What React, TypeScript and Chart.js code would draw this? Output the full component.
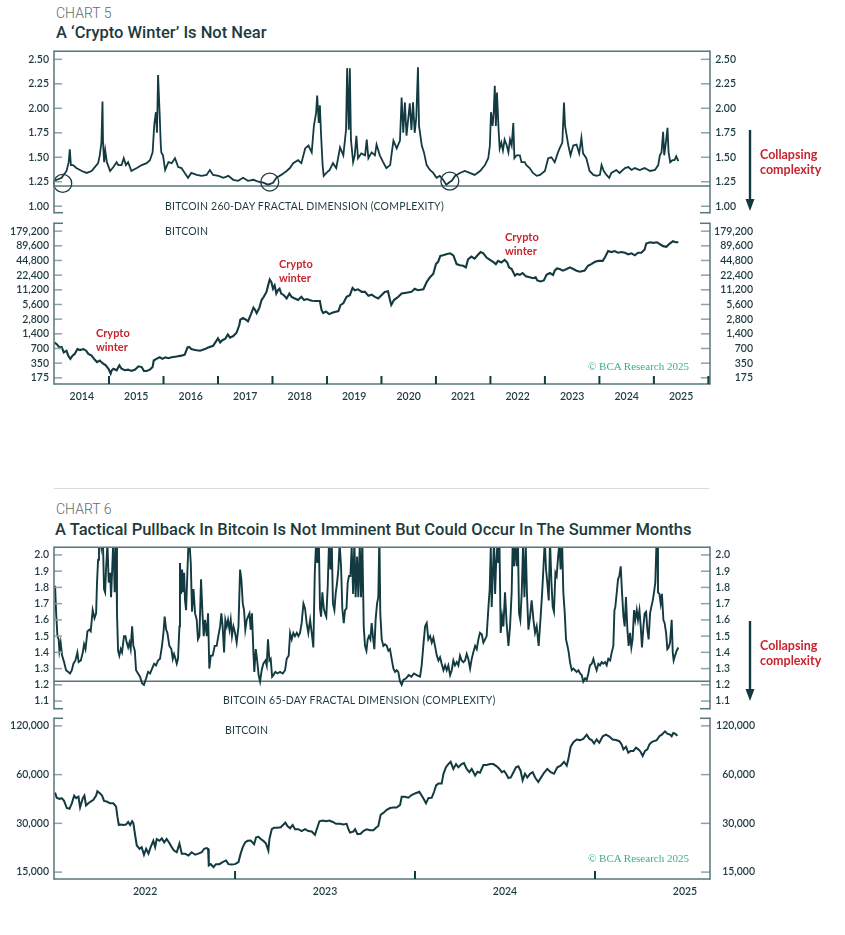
import React, { useEffect, useRef } from "react";
import { Chart, registerables } from "chart.js";

Chart.register(...registerables);

type Pair = [number, number];

// ---------------- CHART 5 data ----------------
const fractal260: Pair[] = [
  [2014.0, 1.26], [2014.13, 1.29], [2014.22, 1.36], [2014.26, 1.45], [2014.28, 1.58], [2014.3, 1.42], [2014.34, 1.42],
  [2014.4, 1.39], [2014.5, 1.36], [2014.59, 1.34], [2014.68, 1.36], [2014.74, 1.4], [2014.8, 1.44], [2014.83, 1.52],
  [2014.86, 1.65], [2014.88, 2.07], [2014.89, 1.65], [2014.91, 1.45], [2014.93, 1.57], [2014.96, 1.45], [2015.02, 1.36],
  [2015.08, 1.4], [2015.14, 1.45], [2015.17, 1.42], [2015.23, 1.42], [2015.27, 1.49], [2015.31, 1.42], [2015.35, 1.45],
  [2015.41, 1.36], [2015.51, 1.39], [2015.6, 1.42], [2015.69, 1.44], [2015.75, 1.47], [2015.8, 1.55], [2015.83, 1.83],
  [2015.86, 1.96], [2015.88, 1.75], [2015.9, 2.34], [2015.93, 1.93], [2015.95, 1.62], [2015.96, 1.55], [2015.99, 1.52],
  [2016.03, 1.37], [2016.09, 1.45], [2016.15, 1.44], [2016.21, 1.49], [2016.27, 1.4], [2016.33, 1.39], [2016.39, 1.34],
  [2016.45, 1.29], [2016.51, 1.34], [2016.61, 1.32], [2016.7, 1.31], [2016.79, 1.32], [2016.85, 1.37], [2016.91, 1.32],
  [2017.01, 1.31], [2017.1, 1.29], [2017.19, 1.31], [2017.28, 1.27], [2017.37, 1.26], [2017.46, 1.29], [2017.55, 1.26],
  [2017.65, 1.27], [2017.74, 1.25], [2017.83, 1.24], [2017.92, 1.22], [2018.01, 1.24], [2018.07, 1.29], [2018.16, 1.32],
  [2018.26, 1.36], [2018.32, 1.39], [2018.38, 1.44], [2018.47, 1.47], [2018.53, 1.44], [2018.6, 1.59], [2018.66, 1.62],
  [2018.72, 1.55], [2018.76, 1.82], [2018.8, 1.95], [2018.82, 2.13], [2018.85, 1.85], [2018.87, 2.03], [2018.89, 1.75],
  [2018.92, 1.42], [2018.94, 1.31], [2018.99, 1.34], [2019.05, 1.37], [2019.11, 1.44], [2019.17, 1.39], [2019.24, 1.6],
  [2019.3, 1.52], [2019.35, 1.78], [2019.37, 2.41], [2019.4, 1.78], [2019.42, 2.41], [2019.44, 1.68], [2019.48, 1.45],
  [2019.51, 1.52], [2019.54, 1.72], [2019.57, 1.49], [2019.63, 1.54], [2019.7, 1.52], [2019.73, 1.68], [2019.76, 1.49],
  [2019.82, 1.55], [2019.88, 1.52], [2019.91, 1.63], [2019.97, 1.52], [2020.03, 1.45], [2020.09, 1.39], [2020.16, 1.42],
  [2020.19, 1.55], [2020.22, 1.67], [2020.28, 1.59], [2020.34, 1.67], [2020.37, 2.11], [2020.4, 1.75], [2020.43, 2.06],
  [2020.46, 1.72], [2020.52, 2.05], [2020.55, 1.78], [2020.58, 2.06], [2020.61, 1.75], [2020.64, 1.91], [2020.67, 2.42],
  [2020.69, 1.82], [2020.74, 1.62], [2020.78, 1.55], [2020.83, 1.42], [2020.89, 1.37], [2020.95, 1.34], [2021.01, 1.29],
  [2021.07, 1.31], [2021.13, 1.27], [2021.19, 1.22], [2021.26, 1.25], [2021.29, 1.26], [2021.35, 1.31], [2021.44, 1.34],
  [2021.53, 1.36], [2021.62, 1.34], [2021.71, 1.32], [2021.81, 1.36], [2021.9, 1.42], [2021.96, 1.49], [2021.99, 1.62],
  [2022.01, 1.96], [2022.04, 1.82], [2022.06, 1.96], [2022.08, 2.23], [2022.1, 1.82], [2022.12, 2.16], [2022.15, 1.78],
  [2022.17, 1.59], [2022.2, 1.65], [2022.23, 1.57], [2022.26, 1.68], [2022.3, 1.62], [2022.33, 1.55], [2022.36, 1.68],
  [2022.39, 1.62], [2022.42, 1.85], [2022.44, 1.49], [2022.48, 1.52], [2022.54, 1.52], [2022.57, 1.45], [2022.63, 1.45],
  [2022.66, 1.42], [2022.72, 1.39], [2022.78, 1.34], [2022.85, 1.31], [2022.91, 1.32], [2023.0, 1.36], [2023.06, 1.49],
  [2023.12, 1.5], [2023.18, 1.45], [2023.24, 1.55], [2023.27, 1.59], [2023.32, 1.65], [2023.35, 2.06], [2023.37, 1.82],
  [2023.4, 1.72], [2023.43, 1.62], [2023.47, 1.52], [2023.52, 1.62], [2023.58, 1.63], [2023.63, 1.54], [2023.67, 1.7],
  [2023.7, 1.54], [2023.76, 1.49], [2023.82, 1.36], [2023.89, 1.32], [2023.95, 1.31], [2024.01, 1.32], [2024.04, 1.42],
  [2024.08, 1.36], [2024.13, 1.32], [2024.18, 1.29], [2024.22, 1.34], [2024.31, 1.37], [2024.37, 1.34], [2024.47, 1.39],
  [2024.53, 1.4], [2024.59, 1.37], [2024.65, 1.39], [2024.74, 1.37], [2024.83, 1.39], [2024.93, 1.36], [2025.02, 1.37],
  [2025.08, 1.42], [2025.11, 1.52], [2025.14, 1.55], [2025.17, 1.76], [2025.19, 1.52], [2025.22, 1.65], [2025.25, 1.8],
  [2025.27, 1.55], [2025.3, 1.45], [2025.34, 1.47], [2025.38, 1.47], [2025.41, 1.51], [2025.45, 1.46],
];

const bitcoinLong: Pair[] = [
  [2014.0, 927], [2014.04, 858], [2014.09, 735], [2014.13, 750], [2014.17, 583], [2014.22, 630], [2014.25, 500],
  [2014.29, 429], [2014.33, 500], [2014.37, 541], [2014.42, 681], [2014.47, 650], [2014.53, 680], [2014.58, 630],
  [2014.62, 541], [2014.68, 500], [2014.74, 409], [2014.78, 368], [2014.83, 397], [2014.88, 350], [2014.94, 315],
  [2014.99, 269], [2015.03, 214], [2015.05, 250], [2015.08, 269], [2015.14, 250], [2015.19, 315], [2015.23, 269],
  [2015.29, 250], [2015.35, 258], [2015.41, 242], [2015.48, 258], [2015.54, 301], [2015.6, 291], [2015.64, 242],
  [2015.69, 242], [2015.75, 258], [2015.8, 291], [2015.82, 397], [2015.87, 429], [2015.93, 462], [2015.98, 429],
  [2016.03, 462], [2016.09, 442], [2016.15, 462], [2016.24, 478], [2016.33, 500], [2016.39, 523], [2016.44, 735],
  [2016.47, 750], [2016.51, 681], [2016.58, 650], [2016.67, 630], [2016.76, 681], [2016.82, 735], [2016.91, 794],
  [2016.97, 1003], [2017.0, 1132], [2017.04, 927], [2017.08, 1034], [2017.13, 1100], [2017.18, 1363], [2017.22, 1169],
  [2017.28, 1262], [2017.34, 1472], [2017.39, 2100], [2017.41, 2730], [2017.46, 2950], [2017.51, 2730], [2017.55, 2525],
  [2017.6, 3440], [2017.65, 4830], [2017.68, 4340], [2017.71, 3720], [2017.76, 4830], [2017.8, 6900], [2017.84, 8040],
  [2017.89, 10150], [2017.92, 13800], [2017.95, 18200], [2017.98, 16100], [2018.01, 11800], [2018.04, 13800],
  [2018.07, 9400], [2018.1, 10970], [2018.13, 11800], [2018.16, 9400], [2018.21, 8680], [2018.26, 7440], [2018.31, 9400],
  [2018.35, 8040], [2018.41, 7440], [2018.47, 6900], [2018.53, 8040], [2018.58, 6900], [2018.63, 7230], [2018.72, 6700],
  [2018.81, 6600], [2018.87, 6600], [2018.9, 4340], [2018.93, 3720], [2018.98, 4010], [2019.04, 3550], [2019.11, 3830],
  [2019.21, 4100], [2019.25, 5480], [2019.3, 5910], [2019.36, 8040], [2019.42, 8680], [2019.47, 12200], [2019.51, 10970],
  [2019.57, 11480], [2019.64, 10150], [2019.7, 10150], [2019.76, 8430], [2019.82, 8900], [2019.88, 8040], [2019.94, 7440],
  [2020.0, 8680], [2020.06, 10150], [2020.12, 10460], [2020.15, 7440], [2020.18, 5480], [2020.23, 6900], [2020.31, 8040],
  [2020.37, 9400], [2020.46, 9750], [2020.55, 10150], [2020.61, 11800], [2020.67, 10970], [2020.77, 11480],
  [2020.83, 16100], [2020.89, 20300], [2020.95, 23700], [2021.0, 37700], [2021.04, 42000], [2021.08, 55500],
  [2021.13, 57100], [2021.19, 59900], [2021.26, 62800], [2021.32, 57100], [2021.38, 37700], [2021.44, 35900],
  [2021.5, 34900], [2021.55, 32300], [2021.59, 47400], [2021.65, 53700], [2021.71, 49000], [2021.78, 59900],
  [2021.82, 66700], [2021.87, 62800], [2021.93, 51400], [2021.99, 46000], [2022.05, 42000], [2022.1, 37700],
  [2022.14, 43900], [2022.2, 40700], [2022.26, 46000], [2022.31, 40700], [2022.34, 32300], [2022.39, 29900],
  [2022.45, 21900], [2022.49, 23700], [2022.54, 22700], [2022.59, 24800], [2022.65, 21300], [2022.72, 20300],
  [2022.78, 19400], [2022.83, 20300], [2022.86, 17400], [2022.92, 16600], [2022.98, 17400], [2023.03, 22700],
  [2023.09, 24800], [2023.15, 22700], [2023.18, 27700], [2023.22, 30800], [2023.27, 29900], [2023.33, 27700],
  [2023.4, 29900], [2023.46, 32300], [2023.52, 29900], [2023.58, 27700], [2023.64, 26400], [2023.73, 27700],
  [2023.79, 34900], [2023.85, 37700], [2023.92, 42000], [2023.98, 43900], [2024.06, 43900], [2024.1, 51400],
  [2024.16, 69800], [2024.22, 66700], [2024.28, 69800], [2024.34, 64700], [2024.41, 66700], [2024.47, 64700],
  [2024.53, 59900], [2024.59, 62800], [2024.65, 57100], [2024.71, 64700], [2024.77, 64700], [2024.83, 75400],
  [2024.86, 99600], [2024.93, 105900], [2024.99, 102900], [2025.06, 105900], [2025.12, 95200], [2025.17, 88200],
  [2025.23, 85400], [2025.29, 99600], [2025.35, 111000], [2025.4, 105900], [2025.45, 105900],
];

const winterLows5: Pair[] = [[2014.15, 1.233], [2017.95, 1.247], [2021.255, 1.257]];
const threshold5 = 1.207;
const fractalTicks5 = [1.0, 1.25, 1.5, 1.75, 2.0, 2.25, 2.5];
const bitcoinTicks5 = [175, 350, 700, 1400, 2800, 5600, 11200, 22400, 44800, 89600, 179200];
const years5 = [2014, 2015, 2016, 2017, 2018, 2019, 2020, 2021, 2022, 2023, 2024, 2025];

// ---------------- CHART 6 data ----------------
const fractal65: Pair[] = [
  [2022.0, 1.81], [2022.006, 1.64], [2022.013, 1.5], [2022.02, 1.48], [2022.024, 1.41], [2022.031, 1.46], [2022.039, 1.38],
  [2022.05, 1.34], [2022.061, 1.29], [2022.072, 1.28], [2022.083, 1.27], [2022.093, 1.29], [2022.102, 1.33], [2022.113, 1.35],
  [2022.124, 1.4], [2022.131, 1.34], [2022.143, 1.35], [2022.154, 1.4], [2022.161, 1.45], [2022.169, 1.42], [2022.18, 1.53],
  [2022.191, 1.54], [2022.198, 1.53], [2022.209, 1.66], [2022.219, 1.61], [2022.228, 1.64], [2022.233, 1.83], [2022.239, 1.97],
  [2022.244, 2.09], [2022.25, 2.13], [2022.257, 2.05], [2022.265, 2.13], [2022.272, 1.79], [2022.278, 1.77], [2022.283, 1.91],
  [2022.291, 2.07], [2022.298, 1.83], [2022.306, 1.89], [2022.311, 1.74], [2022.317, 1.9], [2022.324, 2.11], [2022.331, 1.77],
  [2022.339, 2.09], [2022.344, 1.64], [2022.35, 1.41], [2022.357, 1.38], [2022.365, 1.42], [2022.372, 1.4], [2022.383, 1.5],
  [2022.391, 1.5], [2022.398, 1.46], [2022.406, 1.43], [2022.413, 1.46], [2022.42, 1.42], [2022.428, 1.56], [2022.435, 1.44],
  [2022.443, 1.41], [2022.45, 1.29], [2022.461, 1.27], [2022.472, 1.25], [2022.483, 1.21], [2022.494, 1.2], [2022.506, 1.24],
  [2022.517, 1.28], [2022.528, 1.27], [2022.539, 1.3], [2022.55, 1.33], [2022.561, 1.32], [2022.572, 1.35], [2022.583, 1.36],
  [2022.594, 1.44], [2022.602, 1.52], [2022.609, 1.62], [2022.617, 1.54], [2022.624, 1.52], [2022.635, 1.44], [2022.646, 1.42],
  [2022.654, 1.36], [2022.661, 1.39], [2022.669, 1.36], [2022.676, 1.33], [2022.683, 1.36], [2022.691, 1.56], [2022.694, 1.95],
  [2022.7, 1.76], [2022.706, 1.91], [2022.711, 1.77], [2022.717, 1.89], [2022.722, 1.72], [2022.728, 1.66], [2022.735, 1.89],
  [2022.741, 2.07], [2022.746, 2.09], [2022.754, 1.95], [2022.761, 1.65], [2022.769, 1.79], [2022.778, 1.64], [2022.787, 1.6],
  [2022.794, 1.48], [2022.802, 1.5], [2022.811, 1.85], [2022.819, 1.64], [2022.826, 1.5], [2022.833, 1.6], [2022.843, 1.5],
  [2022.85, 1.64], [2022.857, 1.3], [2022.865, 1.38], [2022.876, 1.38], [2022.887, 1.44], [2022.898, 1.44], [2022.907, 1.5],
  [2022.917, 1.56], [2022.924, 1.64], [2022.931, 1.56], [2022.939, 1.4], [2022.946, 1.6], [2022.954, 1.56], [2022.961, 1.6],
  [2022.969, 1.54], [2022.976, 1.6], [2022.983, 1.5], [2022.991, 1.56], [2023.0, 1.52], [2023.009, 1.46], [2023.019, 1.56],
  [2023.028, 1.91], [2023.035, 1.85], [2023.043, 1.7], [2023.05, 1.66], [2023.057, 1.54], [2023.065, 1.6], [2023.072, 1.62],
  [2023.08, 1.64], [2023.087, 1.54], [2023.094, 1.64], [2023.102, 1.4], [2023.107, 1.28], [2023.115, 1.42], [2023.122, 1.36],
  [2023.131, 1.26], [2023.139, 1.22], [2023.148, 1.29], [2023.157, 1.33], [2023.169, 1.35], [2023.176, 1.32], [2023.183, 1.48],
  [2023.191, 1.35], [2023.198, 1.36], [2023.206, 1.25], [2023.213, 1.26], [2023.224, 1.28], [2023.235, 1.27], [2023.25, 1.28],
  [2023.265, 1.27], [2023.278, 1.29], [2023.287, 1.36], [2023.298, 1.38], [2023.306, 1.52], [2023.315, 1.48], [2023.324, 1.52],
  [2023.333, 1.5], [2023.343, 1.52], [2023.352, 1.5], [2023.361, 1.52], [2023.37, 1.58], [2023.38, 1.7], [2023.389, 1.67],
  [2023.398, 1.58], [2023.407, 1.52], [2023.417, 1.6], [2023.426, 1.52], [2023.435, 1.43], [2023.443, 1.89], [2023.45, 2.07],
  [2023.457, 1.95], [2023.465, 2.13], [2023.472, 1.67], [2023.478, 1.62], [2023.485, 1.77], [2023.493, 1.67], [2023.5, 1.64],
  [2023.507, 1.62], [2023.515, 1.81], [2023.522, 2.07], [2023.53, 1.91], [2023.537, 2.09], [2023.544, 1.7], [2023.552, 1.66],
  [2023.559, 1.76], [2023.567, 1.83], [2023.574, 1.91], [2023.581, 2.07], [2023.589, 1.93], [2023.596, 1.67], [2023.604, 1.58],
  [2023.611, 1.66], [2023.619, 1.67], [2023.626, 1.83], [2023.633, 1.87], [2023.641, 1.87], [2023.648, 2.05], [2023.656, 1.76],
  [2023.663, 2.09], [2023.67, 1.74], [2023.678, 1.99], [2023.685, 1.74], [2023.693, 2.07], [2023.7, 1.74], [2023.707, 2.09],
  [2023.715, 1.56], [2023.722, 1.44], [2023.73, 1.41], [2023.737, 1.48], [2023.744, 1.5], [2023.752, 1.48], [2023.759, 1.58],
  [2023.767, 1.49], [2023.774, 1.42], [2023.781, 1.6], [2023.789, 1.7], [2023.796, 1.74], [2023.802, 2.13], [2023.807, 1.64],
  [2023.815, 1.48], [2023.824, 1.44], [2023.833, 1.45], [2023.843, 1.44], [2023.852, 1.41], [2023.861, 1.42], [2023.87, 1.36],
  [2023.88, 1.3], [2023.889, 1.28], [2023.898, 1.29], [2023.907, 1.28], [2023.917, 1.22], [2023.926, 1.2], [2023.935, 1.23],
  [2023.95, 1.24], [2023.965, 1.26], [2023.98, 1.25], [2023.994, 1.27], [2024.009, 1.26], [2024.028, 1.25], [2024.037, 1.32],
  [2024.046, 1.44], [2024.056, 1.56], [2024.065, 1.58], [2024.074, 1.48], [2024.084, 1.5], [2024.093, 1.46], [2024.102, 1.49],
  [2024.111, 1.44], [2024.121, 1.38], [2024.13, 1.35], [2024.139, 1.37], [2024.148, 1.33], [2024.158, 1.29], [2024.167, 1.32],
  [2024.176, 1.29], [2024.185, 1.32], [2024.195, 1.26], [2024.204, 1.29], [2024.213, 1.35], [2024.222, 1.32], [2024.232, 1.34],
  [2024.241, 1.32], [2024.25, 1.38], [2024.259, 1.35], [2024.269, 1.34], [2024.278, 1.35], [2024.287, 1.39], [2024.296, 1.36],
  [2024.306, 1.3], [2024.315, 1.36], [2024.324, 1.4], [2024.334, 1.44], [2024.343, 1.42], [2024.352, 1.48], [2024.361, 1.52],
  [2024.371, 1.51], [2024.38, 1.46], [2024.389, 1.48], [2024.398, 1.5], [2024.408, 1.68], [2024.415, 1.79], [2024.421, 2.05],
  [2024.426, 1.68], [2024.432, 1.87], [2024.439, 2.09], [2024.445, 1.76], [2024.45, 1.93], [2024.458, 2.07], [2024.463, 1.95],
  [2024.469, 2.09], [2024.476, 1.52], [2024.484, 1.62], [2024.491, 1.56], [2024.5, 1.77], [2024.509, 1.58], [2024.519, 1.44],
  [2024.528, 1.56], [2024.537, 1.77], [2024.543, 2.09], [2024.55, 1.93], [2024.556, 2.09], [2024.565, 1.93], [2024.572, 2.07],
  [2024.578, 1.64], [2024.585, 1.6], [2024.593, 1.77], [2024.6, 2.05], [2024.608, 1.74], [2024.615, 2.07], [2024.622, 1.76],
  [2024.63, 1.54], [2024.639, 1.62], [2024.648, 1.72], [2024.658, 1.6], [2024.667, 1.52], [2024.676, 1.56], [2024.687, 1.44],
  [2024.698, 1.62], [2024.706, 1.76], [2024.713, 1.91], [2024.721, 2.09], [2024.728, 1.91], [2024.735, 1.83], [2024.743, 1.72],
  [2024.75, 2.09], [2024.758, 1.83], [2024.765, 1.68], [2024.772, 1.65], [2024.78, 1.89], [2024.787, 1.87], [2024.795, 1.99],
  [2024.802, 2.07], [2024.809, 1.91], [2024.817, 2.09], [2024.824, 1.77], [2024.832, 1.64], [2024.839, 1.48], [2024.847, 1.44],
  [2024.854, 1.4], [2024.861, 1.34], [2024.871, 1.29], [2024.88, 1.3], [2024.889, 1.29], [2024.898, 1.28], [2024.908, 1.29],
  [2024.917, 1.27], [2024.926, 1.26], [2024.935, 1.22], [2024.945, 1.24], [2024.954, 1.23], [2024.963, 1.27], [2024.972, 1.32],
  [2024.982, 1.33], [2024.991, 1.36], [2025.0, 1.32], [2025.009, 1.29], [2025.019, 1.33], [2025.028, 1.32], [2025.037, 1.34],
  [2025.046, 1.33], [2025.056, 1.34], [2025.065, 1.32], [2025.074, 1.36], [2025.084, 1.35], [2025.093, 1.4], [2025.102, 1.44],
  [2025.108, 1.66], [2025.113, 1.68], [2025.121, 1.77], [2025.128, 1.85], [2025.135, 1.87], [2025.143, 1.93], [2025.15, 1.77],
  [2025.158, 1.62], [2025.165, 1.56], [2025.172, 1.74], [2025.18, 1.54], [2025.187, 1.44], [2025.195, 1.52], [2025.202, 1.43],
  [2025.209, 1.48], [2025.217, 1.66], [2025.224, 1.6], [2025.232, 1.66], [2025.239, 1.6], [2025.247, 1.66], [2025.254, 1.56],
  [2025.261, 1.43], [2025.269, 1.56], [2025.276, 1.64], [2025.284, 1.65], [2025.291, 1.54], [2025.298, 1.48], [2025.306, 1.64],
  [2025.313, 1.68], [2025.321, 1.72], [2025.328, 1.77], [2025.335, 1.83], [2025.341, 2.05], [2025.347, 2.09], [2025.35, 1.77],
  [2025.358, 1.76], [2025.365, 1.7], [2025.372, 1.76], [2025.38, 1.6], [2025.387, 1.58], [2025.395, 1.52], [2025.402, 1.42],
  [2025.409, 1.43], [2025.417, 1.46], [2025.426, 1.6], [2025.432, 1.4], [2025.437, 1.35], [2025.445, 1.38], [2025.454, 1.41],
  [2025.463, 1.43],
];

const bitcoinShort: Pair[] = [
  [2022.0, 46500], [2022.009, 43200], [2022.024, 42400], [2022.037, 42900], [2022.05, 41300], [2022.065, 37300],
  [2022.08, 36900], [2022.093, 39900], [2022.106, 44500], [2022.117, 42900], [2022.13, 43800], [2022.139, 37600],
  [2022.154, 42900], [2022.163, 44500], [2022.172, 38700], [2022.185, 39900], [2022.198, 40900], [2022.213, 41900],
  [2022.228, 44500], [2022.235, 47400], [2022.25, 45900], [2022.261, 44500], [2022.272, 41300], [2022.287, 40900],
  [2022.306, 39900], [2022.324, 39900], [2022.339, 38100], [2022.346, 33200], [2022.354, 29300], [2022.365, 29500],
  [2022.38, 29300], [2022.394, 29500], [2022.406, 30600], [2022.417, 29300], [2022.428, 30900], [2022.435, 30100],
  [2022.444, 25700], [2022.454, 21900], [2022.469, 20900], [2022.481, 21400], [2022.494, 19200], [2022.506, 20900],
  [2022.519, 19500], [2022.531, 21400], [2022.546, 23400], [2022.556, 21400], [2022.565, 24000], [2022.58, 23400],
  [2022.593, 24200], [2022.606, 22900], [2022.62, 24000], [2022.635, 22700], [2022.648, 21400], [2022.661, 20400],
  [2022.676, 19900], [2022.691, 22500], [2022.704, 19500], [2022.722, 19500], [2022.741, 19000], [2022.759, 19900],
  [2022.778, 19200], [2022.796, 19500], [2022.815, 19900], [2022.828, 20900], [2022.843, 21100], [2022.85, 20900],
  [2022.854, 16500], [2022.865, 16800], [2022.88, 16100], [2022.894, 16800], [2022.913, 16800], [2022.931, 17300],
  [2022.95, 17700], [2022.963, 16800], [2022.981, 16700], [2023.0, 16800], [2023.019, 17300], [2023.031, 19500],
  [2023.043, 21400], [2023.056, 22900], [2023.069, 23400], [2023.087, 23500], [2023.106, 22300], [2023.117, 24600],
  [2023.13, 24800], [2023.143, 24000], [2023.157, 23400], [2023.172, 22500], [2023.185, 20400], [2023.191, 24000],
  [2023.204, 27600], [2023.217, 28200], [2023.235, 28200], [2023.254, 28400], [2023.269, 29500], [2023.28, 30300],
  [2023.291, 28900], [2023.306, 28000], [2023.32, 29300], [2023.333, 27600], [2023.352, 27600], [2023.37, 26900],
  [2023.389, 27600], [2023.407, 26900], [2023.426, 26700], [2023.444, 25500], [2023.454, 27600], [2023.469, 30900],
  [2023.487, 31200], [2023.506, 30900], [2023.524, 31200], [2023.543, 30600], [2023.561, 29800], [2023.583, 29800],
  [2023.602, 29500], [2023.62, 29800], [2023.63, 27600], [2023.639, 26300], [2023.657, 26700], [2023.667, 27600],
  [2023.68, 25700], [2023.698, 25900], [2023.713, 26900], [2023.731, 27600], [2023.75, 27200], [2023.769, 27200],
  [2023.783, 28200], [2023.796, 28900], [2023.809, 33900], [2023.824, 34800], [2023.843, 36400], [2023.861, 37300],
  [2023.88, 37600], [2023.898, 37600], [2023.917, 39000], [2023.926, 43800], [2023.944, 43800], [2023.963, 43200],
  [2023.981, 44900], [2024.0, 45900], [2024.024, 47000], [2024.046, 42900], [2024.061, 39900], [2024.074, 42900],
  [2024.093, 43200], [2024.106, 47000], [2024.117, 51500], [2024.13, 52800], [2024.148, 52800], [2024.158, 60700],
  [2024.172, 66600], [2024.185, 69700], [2024.198, 72000], [2024.213, 65000], [2024.228, 69700], [2024.241, 66600],
  [2024.259, 69700], [2024.272, 70700], [2024.287, 65000], [2024.302, 62100], [2024.315, 65000], [2024.334, 59300],
  [2024.347, 62500], [2024.361, 61600], [2024.38, 68800], [2024.398, 68800], [2024.417, 69700], [2024.435, 69700],
  [2024.454, 67500], [2024.469, 65000], [2024.482, 62100], [2024.495, 63200], [2024.506, 60700], [2024.519, 57100],
  [2024.532, 57600], [2024.547, 62100], [2024.561, 66600], [2024.574, 67500], [2024.587, 63200], [2024.598, 55300],
  [2024.611, 60700], [2024.624, 57600], [2024.639, 60700], [2024.654, 62100], [2024.667, 57600], [2024.685, 54000],
  [2024.698, 57100], [2024.717, 61600], [2024.735, 65000], [2024.754, 62100], [2024.772, 60700], [2024.791, 66600],
  [2024.809, 68100], [2024.828, 72000], [2024.843, 68100], [2024.852, 74800], [2024.865, 89200], [2024.88, 95200],
  [2024.898, 98800], [2024.917, 98000], [2024.935, 99700], [2024.954, 105900], [2024.969, 99700], [2024.982, 98000],
  [2024.995, 93400], [2025.009, 98800], [2025.024, 94300], [2025.043, 103500], [2025.061, 105900], [2025.08, 103000],
  [2025.098, 98800], [2025.117, 98000], [2025.135, 96500], [2025.148, 92100], [2025.158, 85900], [2025.172, 89200],
  [2025.185, 82000], [2025.198, 84000], [2025.213, 84000], [2025.228, 88000], [2025.241, 85900], [2025.254, 82800],
  [2025.265, 78300], [2025.278, 84000], [2025.291, 85900], [2025.302, 92100], [2025.315, 95200], [2025.328, 96500],
  [2025.343, 98000], [2025.358, 103500], [2025.371, 105900], [2025.389, 110900], [2025.402, 107400], [2025.417, 105900],
  [2025.426, 103500], [2025.435, 108400], [2025.445, 107400], [2025.458, 104400],
];

const threshold6 = 1.222;
const fractalTicks6 = [1.1, 1.2, 1.3, 1.4, 1.5, 1.6, 1.7, 1.8, 1.9, 2.0];
const bitcoinTicks6 = [15000, 30000, 60000, 120000];
const years6 = [2022, 2023, 2024, 2025];

// ---------------- styling ----------------
const LINE = "#123a40";
const TEXT = "#1d3a40";
const AXIS = "#587579";
const TICK = "#8fa2a5";
const RED = "#c7252e";
const MINT = "#35b08e";
const TICK_FONT = { family: "Lato", size: 10.5, weight: "600" };

const toPoints = (arr: Pair[]) => arr.map(([x, y]) => ({ x, y }));

interface PanelSpec {
  top: number;
  height: number;
  padTop: number;
  padBottom: number;
  rightW: number;
  xMin: number;
  xMax: number;
  years: number[] | null;
  yType: "linear" | "logarithmic";
  yMin: number;
  yMax: number;
  yTicks: number[];
  fmt: (v: number) => string;
  series: Pair[];
  lineWidth: number;
  threshold?: number;
  circles?: Pair[];
  frameTop: boolean;
}

const decorPlugin = {
  id: "decor",
  afterDatasetsDraw(chart: any, _args: any, o: any) {
    const { ctx, chartArea: a, scales } = chart;
    const seg = (x1: number, y1: number, x2: number, y2: number) => {
      ctx.beginPath();
      ctx.moveTo(x1, y1);
      ctx.lineTo(x2, y2);
      ctx.stroke();
    };
    ctx.save();
    ctx.lineCap = "butt";
    // inward y ticks
    ctx.strokeStyle = TICK;
    ctx.lineWidth = 1.5;
    for (const t of scales.y.ticks) {
      const py = scales.y.getPixelForValue(t.value);
      seg(a.left, py, a.left + 8, py);
      seg(a.right - 9, py, a.right, py);
    }
    // frame
    ctx.strokeStyle = AXIS;
    ctx.lineWidth = 1.5;
    seg(a.left, a.top - 0.75, a.left, a.bottom + 0.75);
    seg(a.right, a.top - 0.75, a.right, a.bottom + 0.75);
    if (o.frameTop) seg(a.left, a.top, a.right, a.top);
    else {
      seg(a.left, a.top, a.left + 9, a.top);
      seg(a.right - 10, a.top, a.right, a.top);
    }
    if (o.frameBottom) seg(a.left, a.bottom, a.right, a.bottom);
    else {
      seg(a.left, a.bottom, a.left + 9, a.bottom);
      seg(a.right - 10, a.bottom, a.right, a.bottom);
    }
    // year boundary ticks
    if (o.boundaries) {
      ctx.strokeStyle = LINE;
      ctx.lineWidth = 2;
      for (const v of o.boundaries) {
        const px = scales.x.getPixelForValue(v);
        if (px > a.left + 2 && px <= a.right) seg(px, a.bottom, px, a.bottom - 8);
      }
    }
    ctx.restore();
  },
};

function buildConfig(s: PanelSpec): any {
  const yScale = (position: "left" | "right") => ({
    type: s.yType,
    position,
    min: s.yMin,
    max: s.yMax,
    bounds: "data",
    grid: { display: false, drawTicks: false },
    border: { display: false },
    ticks: {
      color: TEXT,
      font: TICK_FONT,
      padding: 5,
      crossAlign: position === "right" ? "far" : "near",
      autoSkip: false,
      callback: (v: any) => s.fmt(Number(v)),
    },
    afterBuildTicks: (sc: any) => {
      sc.ticks = s.yTicks.map((v) => ({ value: v }));
    },
    afterFit: (sc: any) => {
      sc.width = position === "left" ? 54 : s.rightW;
    },
  });

  const datasets: any[] = [
    {
      data: toPoints(s.series),
      borderColor: LINE,
      borderWidth: s.lineWidth,
      pointRadius: 0,
      tension: 0,
      clip: 0,
      order: 1,
    },
  ];
  if (s.threshold !== undefined) {
    datasets.push({
      data: toPoints([
        [s.xMin, s.threshold],
        [s.xMax, s.threshold],
      ]),
      borderColor: AXIS,
      borderWidth: 1.4,
      pointRadius: 0,
      order: 2,
    });
  }
  if (s.circles) {
    datasets.push({
      data: toPoints(s.circles),
      showLine: false,
      pointRadius: 9,
      pointBorderWidth: 1.3,
      pointBorderColor: "#1f3b40",
      pointBackgroundColor: "rgba(0,0,0,0)",
      clip: false,
      order: 0,
    });
  }

  const years = s.years || [];
  const hasX = !!s.years;
  return {
    type: "line",
    data: { datasets },
    plugins: [decorPlugin],
    options: {
      animation: false,
      responsive: false,
      devicePixelRatio: 1,
      events: [],
      layout: { padding: { top: s.padTop, bottom: s.padBottom, left: 0, right: 135 - s.rightW } },
      plugins: {
        legend: { display: false },
        tooltip: { enabled: false },
        decor: {
          frameTop: s.frameTop,
          frameBottom: hasX,
          boundaries: hasX ? years.map((y) => y + 1) : null,
        },
      },
      scales: {
        x: {
          type: "linear",
          min: s.xMin,
          max: s.xMax,
          bounds: "data",
          display: hasX,
          grid: { display: false, drawTicks: false },
          border: { display: false },
          ticks: {
            color: TEXT,
            font: TICK_FONT,
            padding: 6,
            maxRotation: 0,
            autoSkip: false,
            callback: (v: any) => String(Math.floor(Number(v))),
          },
          afterBuildTicks: (sc: any) => {
            sc.ticks = years.map((y) => ({ value: y + 0.5 }));
          },
          afterFit: (sc: any) => {
            if (hasX) sc.height = 26;
          },
        },
        y: yScale("left"),
        yR: yScale("right"),
      },
    },
  };
}

const fmt2 = (v: number) => v.toFixed(2);
const fmt1 = (v: number) => v.toFixed(1);
const fmtN = (v: number) => Math.round(v).toLocaleString("en-US");

const panels: PanelSpec[] = [
  {
    top: 40, height: 184, padTop: 9, padBottom: 8, rightW: 26,
    xMin: 2013.99, xMax: 2026.03, years: null,
    yType: "linear", yMin: 0.934, yMax: 2.582, yTicks: fractalTicks5, fmt: fmt2,
    series: fractal260, lineWidth: 1.8, threshold: threshold5, circles: winterLows5, frameTop: true,
  },
  {
    top: 212, height: 198, padTop: 8, padBottom: 0, rightW: 43,
    xMin: 2013.99, xMax: 2026.03, years: years5,
    yType: "logarithmic", yMin: 130.7, yMax: 259500, yTicks: bitcoinTicks5, fmt: fmtN,
    series: bitcoinLong, lineWidth: 2.1, frameTop: false,
  },
  {
    top: 536, height: 184, padTop: 8, padBottom: 8, rightW: 20,
    xMin: 2021.994, xMax: 2025.639, years: null,
    yType: "linear", yMin: 1.053, yMax: 2.047, yTicks: fractalTicks6, fmt: fmt1,
    series: fractal65, lineWidth: 1.9, threshold: threshold6, frameTop: true,
  },
  {
    top: 707, height: 198, padTop: 8, padBottom: 0, rightW: 45,
    xMin: 2021.994, xMax: 2025.639, years: years6,
    yType: "logarithmic", yMin: 13600, yMax: 133600, yTicks: bitcoinTicks6, fmt: fmtN,
    series: bitcoinShort, lineWidth: 2, frameTop: false,
  },
];

function Panel({ spec }: { spec: PanelSpec }) {
  const ref = useRef<HTMLCanvasElement>(null);
  useEffect(() => {
    if (!ref.current) return;
    const chart = new Chart(ref.current, buildConfig(spec));
    return () => chart.destroy();
  }, [spec]);
  return (
    <canvas
      ref={ref}
      width={845}
      height={spec.height}
      style={{ position: "absolute", left: 0, top: spec.top, width: 845, height: spec.height }}
    />
  );
}

function Txt(props: {
  x: number; y: number; size: number; family: string; weight?: number | string;
  color: string; lh?: number; ls?: number; children: React.ReactNode;
}) {
  const { x, y, size, family, weight = 400, color, lh, ls, children } = props;
  return (
    <div
      style={{
        position: "absolute", left: x, top: y, fontSize: size, fontFamily: family,
        fontWeight: weight as any, color, whiteSpace: "nowrap", lineHeight: (lh || size) + "px",
        letterSpacing: ls ? ls + "px" : undefined,
      }}
    >
      {children}
    </div>
  );
}

const SANS = "Roboto, 'Noto Sans', sans-serif";
const LATO = "Lato, 'Noto Sans', sans-serif";
const SERIF = "'Liberation Serif', 'DejaVu Serif', serif";

export default function App() {
  return (
    <div style={{ position: "absolute", left: 0, top: 0, width: 845, height: 935, background: "#fff", overflow: "hidden" }}>
      {/* Chart 5 headings */}
      <Txt x={56} y={5.5} size={14} family={SANS} weight={300} color="#5b6e72">CHART 5</Txt>
      <Txt x={56} y={24.5} size={16.5} family={SANS} weight={500} color={TEXT}>A ‘Crypto Winter’ Is Not Near</Txt>

      {/* Chart 6 headings */}
      <Txt x={56} y={502} size={14} family={SANS} weight={300} color="#5b6e72">CHART 6</Txt>
      <Txt x={55} y={521.5} size={16.5} family={SANS} weight={500} color={TEXT}>
        A Tactical Pullback In Bitcoin Is Not Imminent But Could Occur In The Summer Months
      </Txt>

      {panels.map((p, i) => (
        <Panel key={i} spec={p} />
      ))}

      {/* Chart 5 annotations */}
      <Txt x={165} y={201} size={10.5} ls={0.2} family={LATO} color={TEXT}>BITCOIN 260-DAY FRACTAL DIMENSION (COMPLEXITY)</Txt>
      <Txt x={165} y={226} size={10.5} ls={0.2} family={LATO} color={TEXT}>BITCOIN</Txt>
      <Txt x={96} y={326.4} size={11} lh={14} family={LATO} weight={700} color={RED}>Crypto<br />winter</Txt>
      <Txt x={279} y={257.4} size={11} lh={14} family={LATO} weight={700} color={RED}>Crypto<br />winter</Txt>
      <Txt x={505} y={230.4} size={11} lh={14} family={LATO} weight={700} color={RED}>Crypto<br />winter</Txt>
      <Txt x={588} y={361} size={11} family={SERIF} color={MINT}>© BCA Research 2025</Txt>
      <Txt x={760} y={147} size={12.5} lh={15} family={LATO} weight={700} color={RED}>Collapsing<br />complexity</Txt>

      {/* Chart 6 annotations */}
      <Txt x={223} y={695} size={10.5} ls={0.2} family={LATO} color={TEXT}>BITCOIN 65-DAY FRACTAL DIMENSION (COMPLEXITY)</Txt>
      <Txt x={225} y={725} size={10.5} ls={0.2} family={LATO} color={TEXT}>BITCOIN</Txt>
      <Txt x={588} y={853} size={11} family={SERIF} color={MINT}>© BCA Research 2025</Txt>
      <Txt x={760} y={637.5} size={12.5} lh={15} family={LATO} weight={700} color={RED}>Collapsing<br />complexity</Txt>

      <svg width={845} height={935} style={{ position: "absolute", left: 0, top: 0, pointerEvents: "none" }}>
        <line x1={54} y1={488.5} x2={709} y2={488.5} stroke="#dcdcd3" strokeWidth={1.2} />
        <line x1={750} y1={130} x2={750} y2={201} stroke={LINE} strokeWidth={2.4} />
        <polygon points="745.5,199 754.5,199 750,211" fill={LINE} />
        <line x1={750} y1={621} x2={750} y2={690} stroke={LINE} strokeWidth={2.4} />
        <polygon points="745.5,689 754.5,689 750,701" fill={LINE} />
      </svg>
    </div>
  );
}
